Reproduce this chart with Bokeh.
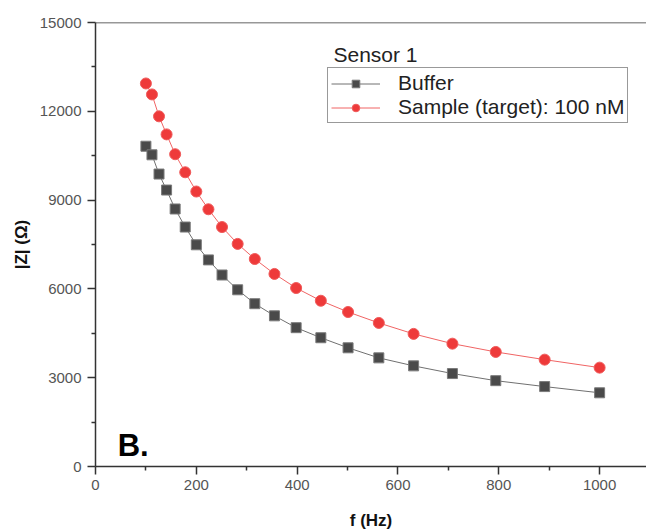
from bokeh.plotting import figure
from bokeh.models import (FixedTicker, Span, Label, Legend, LegendItem, Range1d)
from bokeh.embed import file_html
from bokeh.resources import INLINE

# ---- data ----
freq_hz = [100, 112, 126, 141, 158, 178, 200, 224, 251, 282, 316,
           355, 398, 447, 501, 562, 631, 708, 794, 891, 1000]
z_buffer = [10820, 10530, 9880, 9340, 8700, 8090, 7490, 6980, 6470, 5970, 5500,
            5090, 4690, 4350, 4010, 3670, 3400, 3140, 2900, 2700, 2490]
z_sample = [12940, 12570, 11830, 11220, 10550, 9940, 9290, 8690, 8090, 7520, 7010,
            6505, 6030, 5600, 5220, 4850, 4480, 4150, 3870, 3610, 3340]
x_ticks = [0, 200, 400, 600, 800, 1000]
x_minor = [100, 300, 500, 700, 900]
y_ticks = [0, 3000, 6000, 9000, 12000, 15000]
y_minor = [1500, 4500, 7500, 10500, 13500]
legend_title = "Sensor 1"
label_buffer = "Buffer"
label_sample = "Sample (target): 100 nM"
panel_label = "B."

FONT = "Liberation Sans"

p = figure(width=646, height=532, output_backend="svg", toolbar_location=None,
           x_range=Range1d(0, 1093), y_range=Range1d(0, 15000),
           min_border_left=95, min_border_right=0, min_border_top=22,
           min_border_bottom=64)
p.outline_line_color = None
p.xgrid.visible = False
p.ygrid.visible = False
p.background_fill_color = "white"
p.border_fill_color = "white"

for ax in (p.xaxis[0], p.yaxis[0]):
    ax.axis_line_color = "#333333"
    ax.axis_line_width = 1.5
    ax.major_tick_line_color = "#333333"
    ax.minor_tick_line_color = "#333333"
    ax.major_tick_line_width = 1.5
    ax.minor_tick_line_width = 1.5
    ax.major_tick_in = 0
    ax.major_tick_out = 8
    ax.minor_tick_in = 0
    ax.minor_tick_out = 4
    ax.major_label_text_font = FONT
    ax.major_label_text_font_size = "15px"
    ax.major_label_text_color = "#555555"
    ax.axis_label_text_font = FONT
    ax.axis_label_text_font_size = "17px"
    ax.axis_label_text_font_style = "bold"
    ax.axis_label_text_color = "#111111"

p.xaxis[0].ticker = FixedTicker(ticks=x_ticks, minor_ticks=x_minor)
p.yaxis[0].ticker = FixedTicker(ticks=y_ticks, minor_ticks=y_minor)
p.xaxis[0].axis_label = "f (Hz)"
p.yaxis[0].axis_label = "|Z| (Ω)"
p.xaxis[0].major_label_standoff = 5
p.yaxis[0].major_label_standoff = 6
p.xaxis[0].axis_label_standoff = 18
p.yaxis[0].axis_label_standoff = 6

# top frame line
p.add_layout(Span(location=15000, dimension="width", line_color="#333333", line_width=1.5))

# series
lb = p.line(freq_hz, z_buffer, line_color="#707070", line_width=1)
sb = p.scatter(freq_hz, z_buffer, marker="square", size=10,
               fill_color="#4a4a4a", line_color="#7a7a7a", line_width=1)
ls = p.line(freq_hz, z_sample, line_color="#f06464", line_width=1)
ss = p.scatter(freq_hz, z_sample, marker="circle", size=11,
               fill_color="#ee3a3a", line_color="#f05a5a", line_width=1)

legend = Legend(items=[LegendItem(label=label_buffer, renderers=[lb, sb]),
                       LegendItem(label=label_sample, renderers=[ls, ss])],
                location=(232, 343))
legend.border_line_color = "#333333"
legend.border_line_width = 1
legend.background_fill_color = "white"
legend.background_fill_alpha = 1
legend.label_text_font = FONT
legend.label_text_font_size = "21px"
legend.label_text_color = "#222222"
legend.padding = 3
legend.spacing = 0
legend.margin = 0
legend.label_height = 19
legend.glyph_height = 19
legend.glyph_width = 49
legend.label_standoff = 18
p.add_layout(legend, "center")

p.add_layout(Label(x=472, y=13920, text=legend_title, text_font=FONT,
                   text_font_size="21px", text_color="#222222",
                   text_baseline="alphabetic"))
p.add_layout(Label(x=44, y=706, text=panel_label, text_font=FONT,
                   text_font_size="31px", text_font_style="bold",
                   text_color="#000000", text_baseline="alphabetic"))

open("out.html", "w").write(file_html(p, INLINE))
